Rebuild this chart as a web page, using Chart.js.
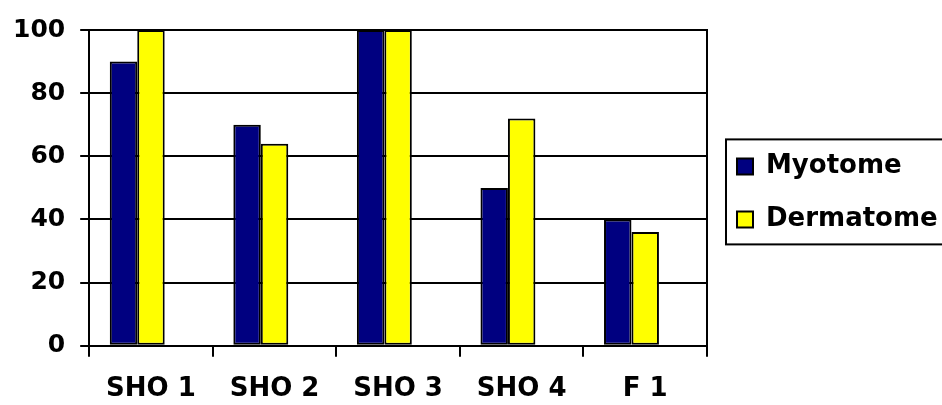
<!DOCTYPE html>
<html>
<head>
<meta charset="utf-8">
<script src="https://cdn.jsdelivr.net/npm/chart.js@4"></script>
<style>
  html, body { margin: 0; padding: 0; background: #fff; }
  #wrap { width: 942px; height: 405px; position: relative; }
</style>
</head>
<body>
<div id="wrap"><canvas id="chart"></canvas></div>
<script>
const categories = ['SHO 1', 'SHO 2', 'SHO 3', 'SHO 4', 'F 1'];
const myotome = [90, 70, 100, 50, 40];
const dermatome = [100, 64, 100, 72, 36];
const emptySlot = [null, null, null, null, null]; // third (blank) series of the original sheet
const yTicks = [0, 20, 40, 60, 80, 100];

const fontFam = '"DejaVu Sans", Arial, sans-serif';

// border round the legend, like the excel one
const legendBox = {
  id: 'legendBox',
  afterDraw(chart) {
    const boxes = chart.legend.legendHitBoxes;
    if (!boxes || !boxes.length) return;
    const left = Math.min(...boxes.map(b => b.left)) - 11;
    const top = Math.min(...boxes.map(b => b.top)) - 14;
    const bottom = Math.max(...boxes.map(b => b.top + b.height)) + 12;
    const ctx = chart.ctx;
    ctx.save();
    ctx.strokeStyle = '#000';
    ctx.lineWidth = 2;
    ctx.strokeRect(left, top, chart.width - left + 5, bottom - top);
    ctx.restore();
  }
};

new Chart(document.getElementById('chart'), {
  type: 'bar',
  data: {
    labels: categories,
    datasets: [
      { label: 'Myotome', data: myotome, backgroundColor: '#000080', borderColor: '#000', borderWidth: 2, borderSkipped: false },
      { label: 'Dermatome', data: dermatome, backgroundColor: '#FFFF00', borderColor: '#000', borderWidth: 2, borderSkipped: false },
      { label: '', data: emptySlot, backgroundColor: '#fff' }
    ]
  },
  options: {
    responsive: true,
    maintainAspectRatio: false,
    animation: false,
    layout: { padding: { top: 18, left: -2, bottom: -17, right: 0 } },
    datasets: { bar: { categoryPercentage: 3 / 4.5, barPercentage: 1 } },
    plugins: {
      tooltip: { enabled: false },
      legend: {
        position: 'right',
        align: 'center',
        fullSize: false,
        maxWidth: 232,
        title: { display: true, text: ' ', font: { size: 10, lineHeight: 1 }, padding: 0 },
        labels: {
          color: '#000',
          font: { family: fontFam, size: 26, weight: 'bold' },
          boxWidth: 16,
          boxHeight: 16,
          padding: 27,
          filter: item => item.text !== ''
        }
      }
    },
    scales: {
      x: {
        grid: { display: true, offset: true, drawOnChartArea: false, drawTicks: true, tickLength: 11, color: '#000', lineWidth: 2 },
        border: { display: true, color: '#000', width: 2 },
        ticks: { color: '#000', font: { family: fontFam, size: 26, weight: 'bold' }, padding: 17, maxRotation: 0 }
      },
      y: {
        min: 0,
        max: 100,
        afterBuildTicks: axis => { axis.ticks = yTicks.map(v => ({ value: v })); },
        grid: { color: '#000', lineWidth: 2, tickLength: 9 },
        border: { display: true, color: '#000', width: 2 },
        ticks: { color: '#000', font: { family: fontFam, size: 25, weight: 'bold' }, padding: 15 }
      },
      y2: {
        position: 'right',
        min: 0,
        max: 100,
        afterFit: axis => { axis.width = 3; },
        grid: { display: false },
        border: { display: true, color: '#000', width: 2 },
        ticks: { display: false }
      }
    }
  },
  plugins: [legendBox]
});
</script>
</body>
</html>
